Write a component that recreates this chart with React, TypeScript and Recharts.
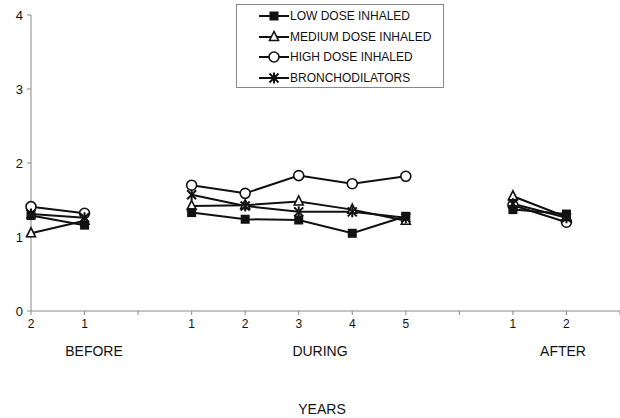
import React from "react";
import { LineChart, Line, XAxis, YAxis } from "recharts";

// x slots: before (2,1), gap, during (1..5), gap, after (1,2), end
const slots = ["B2", "B1", "gapA", "D1", "D2", "D3", "D4", "D5", "gapB", "A1", "A2", "end"];
const tickLabels = ["2", "1", "", "1", "2", "3", "4", "5", "", "1", "2", ""];
const groupLabels = ["BEFORE", "DURING", "AFTER"];

const lowDose = [1.29, 1.16, null, 1.33, 1.24, 1.23, 1.05, 1.28, null, 1.37, 1.31, null];
const mediumDose = [1.05, 1.22, null, 1.42, 1.43, 1.48, 1.37, 1.22, null, 1.55, 1.27, null];
const highDose = [1.41, 1.32, null, 1.7, 1.59, 1.83, 1.72, 1.82, null, 1.43, 1.2, null];
const broncho = [1.31, 1.26, null, 1.57, 1.42, 1.34, 1.34, 1.26, null, 1.45, 1.26, null];

const data = slots.map((slot, i) => ({
  slot,
  low: lowDose[i],
  medium: mediumDose[i],
  high: highDose[i],
  broncho: broncho[i],
}));

const FONT = "'Liberation Sans', Arial, sans-serif";
const INK = "#111";

type Shape = "square" | "triangle" | "circle" | "star";

function Marker({ shape, cx, cy }: { shape: Shape; cx: number; cy: number }) {
  if (shape === "square")
    return <rect x={cx - 4.5} y={cy - 4.5} width={9} height={9} fill={INK} />;
  if (shape === "triangle")
    return (
      <polygon
        points={`${cx},${cy - 5.5} ${cx - 4.5},${cy + 3.5} ${cx + 4.5},${cy + 3.5}`}
        fill="#fff"
        stroke={INK}
        strokeWidth={1.6}
      />
    );
  if (shape === "circle")
    return <circle cx={cx} cy={cy} r={5} fill="#fff" stroke={INK} strokeWidth={1.6} />;
  return (
    <g stroke={INK} strokeWidth={2}>
      <line x1={cx - 4.5} y1={cy - 4.5} x2={cx + 4.5} y2={cy + 4.5} />
      <line x1={cx - 4.5} y1={cy + 4.5} x2={cx + 4.5} y2={cy - 4.5} />
      <line x1={cx} y1={cy - 5.5} x2={cx} y2={cy + 5.5} />
    </g>
  );
}

const dotFor = (shape: Shape) => (p: any) => {
  const { cx, cy, value, index } = p;
  if (value == null || cx == null || cy == null) return <g key={`${shape}-${index}`} />;
  return (
    <g key={`${shape}-${index}`}>
      <Marker shape={shape} cx={cx} cy={cy} />
    </g>
  );
};

const legendItems: { label: string; shape: Shape }[] = [
  { label: "LOW DOSE INHALED", shape: "square" },
  { label: "MEDIUM DOSE INHALED", shape: "triangle" },
  { label: "HIGH DOSE INHALED", shape: "circle" },
  { label: "BRONCHODILATORS", shape: "star" },
];

function LegendBox() {
  return (
    <div
      style={{
        position: "absolute",
        left: 236,
        top: 4,
        border: "1px solid #888",
        width: 208,
        height: 84,
        boxSizing: "border-box",
        paddingTop: 1,
        fontFamily: FONT,
        fontSize: 12,
        color: INK,
        background: "#fff",
      }}
    >
      {legendItems.map((it) => (
        <div key={it.label} style={{ display: "flex", alignItems: "center", height: 20.5 }}>
          <svg width={33} height={14} style={{ marginLeft: 20 }}>
            <line x1={2} y1={7} x2={32} y2={7} stroke={INK} strokeWidth={2} />
            <Marker shape={it.shape} cx={17} cy={7} />
          </svg>
          <span>{it.label}</span>
        </div>
      ))}
    </div>
  );
}

export default function App() {
  const groupX = [94, 320, 563];
  const labelStyle = {
    position: "absolute" as const,
    width: 100,
    textAlign: "center" as const,
    fontFamily: FONT,
    fontSize: 14,
    color: INK,
  };
  return (
    <div style={{ position: "absolute", left: 0, top: 0, width: 620, height: 418, background: "#fff" }}>
      <LineChart width={620} height={418} data={data} margin={{ top: 15, right: 0, left: 0, bottom: 0 }}>
        <XAxis
          dataKey="slot"
          height={107}
          interval={0}
          tickFormatter={(_v: any, i: number) => tickLabels[i]}
          tickSize={4}
          tickMargin={4}
          stroke="#888"
          tick={{ fill: INK, fontSize: 12, fontFamily: FONT }}
        />
        <YAxis
          domain={[0, 4]}
          ticks={[0, 1, 2, 3, 4]}
          width={31}
          tickSize={4}
          tickMargin={4}
          stroke="#888"
          tick={{ fill: INK, fontSize: 13, fontFamily: FONT }}
        />
        <Line dataKey="high" stroke={INK} strokeWidth={2} dot={dotFor("circle")} isAnimationActive={false} />
        <Line dataKey="medium" stroke={INK} strokeWidth={2} dot={dotFor("triangle")} isAnimationActive={false} />
        <Line dataKey="broncho" stroke={INK} strokeWidth={2} dot={dotFor("star")} isAnimationActive={false} />
        <Line dataKey="low" stroke={INK} strokeWidth={2} dot={dotFor("square")} isAnimationActive={false} />
      </LineChart>
      <LegendBox />
      {groupLabels.map((g, i) => (
        <div key={g} style={{ ...labelStyle, left: groupX[i] - 50, top: 343 }}>
          {g}
        </div>
      ))}
      <div style={{ ...labelStyle, left: 272, top: 401 }}>YEARS</div>
    </div>
  );
}
